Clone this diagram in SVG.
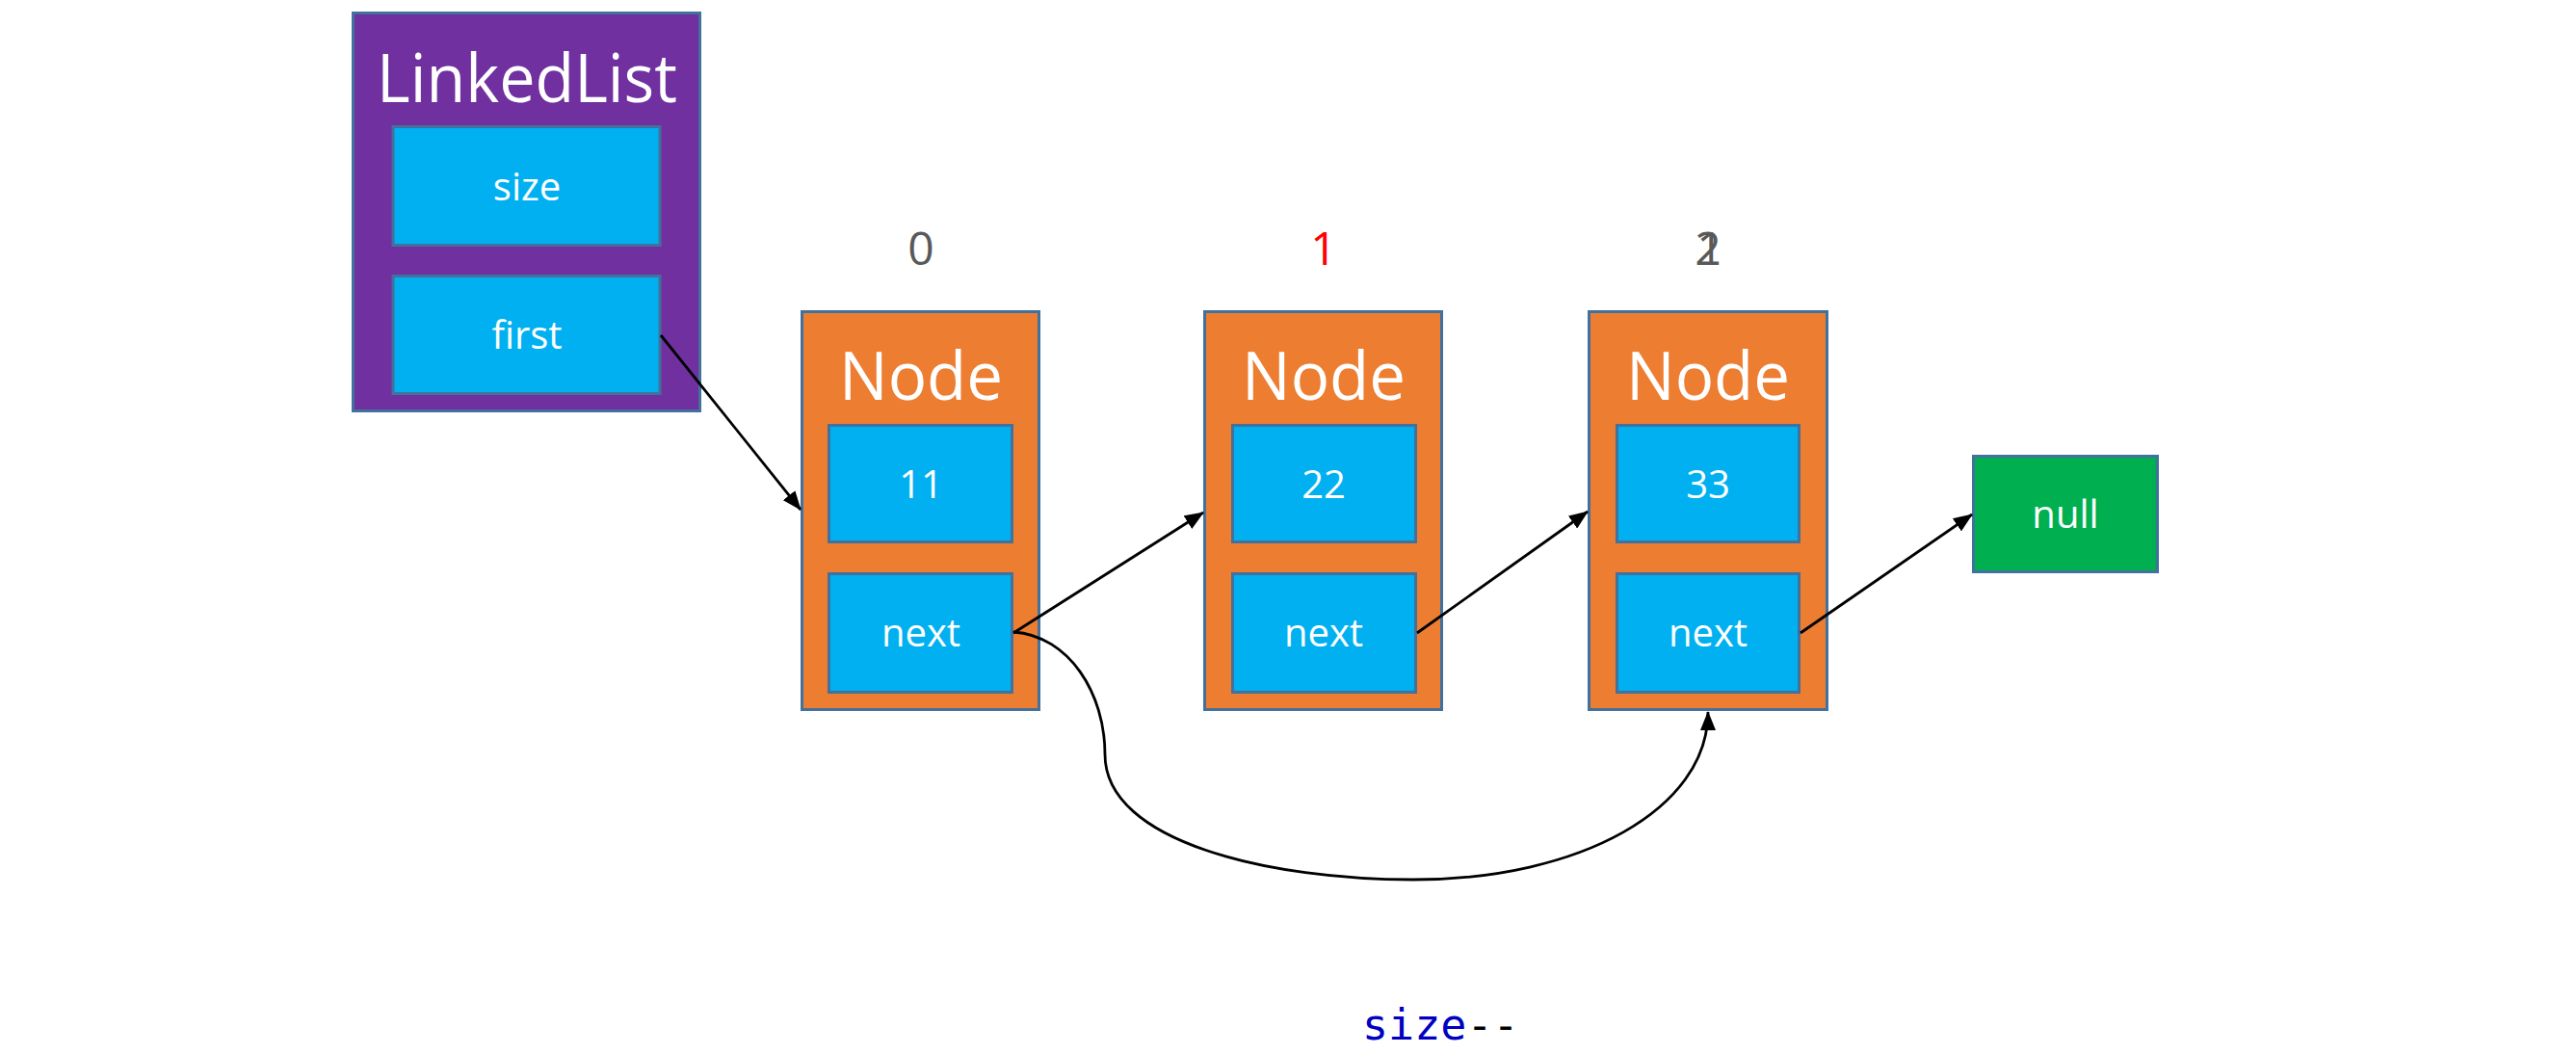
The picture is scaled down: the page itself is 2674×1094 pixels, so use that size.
<svg xmlns="http://www.w3.org/2000/svg" width="2674" height="1094" viewBox="0 0 2674 1094">
  <style>
    .bg { fill: #ffffff; }
    .box { stroke: #41719C; stroke-width: 3; }
    .list { fill: #7030A0; }
    .node { fill: #ED7D31; }
    .field { fill: #00B0F0; }
    .nul { fill: #00B050; }
    .title { font-family: "Open Sans", "Noto Sans", sans-serif; font-size: 70px; fill: #ffffff; text-anchor: middle; }
    .lbl { font-family: "Open Sans", "Noto Sans", sans-serif; font-size: 40px; fill: #ffffff; text-anchor: middle; }
    .idx { font-family: "Open Sans", "Noto Sans", sans-serif; font-size: 48px; fill: #595959; text-anchor: middle; }
    .code { font-family: "DejaVu Sans Mono", "Liberation Mono", monospace; font-size: 45px; }
    .conn { fill: none; stroke: #000000; stroke-width: 2.8; }
  </style>
  <defs>
    <marker id="arrow" markerUnits="userSpaceOnUse" markerWidth="20" markerHeight="16" refX="19" refY="8" orient="auto">
      <path d="M0,0 L20,8 L0,16 z" fill="#000000"/>
    </marker>
  </defs>
  <rect class="bg" x="0" y="0" width="2674" height="1094"/>

  <g id="linkedlist">
    <rect class="box list" x="366.5" y="13.5" width="360" height="413"/>
    <text class="title" x="547" y="106" textLength="312" lengthAdjust="spacingAndGlyphs">LinkedList</text>
    <rect class="box field" x="408" y="131.5" width="277" height="123"/>
    <text class="lbl" x="547" y="208">size</text>
    <rect class="box field" x="408" y="286.5" width="277" height="122"/>
    <text class="lbl" x="547" y="362">first</text>
  </g>

  <g id="node0">
    <text class="idx" x="956" y="275">0</text>
    <rect class="box node" x="832.5" y="323.5" width="246" height="413"/>
    <text class="title" x="956" y="415" textLength="170" lengthAdjust="spacingAndGlyphs">Node</text>
    <rect class="box field" x="860.5" y="441.5" width="190" height="121"/>
    <text class="lbl" x="956" y="517">11</text>
    <rect class="box field" x="860.5" y="595.5" width="190" height="123"/>
    <text class="lbl" x="956" y="671">next</text>
  </g>

  <g id="node1">
    <text class="idx" x="1374" y="275" style="fill:#FF0000">1</text>
    <rect class="box node" x="1250.5" y="323.5" width="246" height="413"/>
    <text class="title" x="1374" y="415" textLength="170" lengthAdjust="spacingAndGlyphs">Node</text>
    <rect class="box field" x="1279.5" y="441.5" width="190" height="121"/>
    <text class="lbl" x="1374" y="517">22</text>
    <rect class="box field" x="1279.5" y="595.5" width="190" height="123"/>
    <text class="lbl" x="1374" y="671">next</text>
  </g>

  <g id="node2">
    <text class="idx" x="1773" y="275">2</text>
    <text class="idx" x="1775" y="275">1</text>
    <rect class="box node" x="1649.5" y="323.5" width="247" height="413"/>
    <text class="title" x="1773" y="415" textLength="170" lengthAdjust="spacingAndGlyphs">Node</text>
    <rect class="box field" x="1678.5" y="441.5" width="189" height="121"/>
    <text class="lbl" x="1773" y="517">33</text>
    <rect class="box field" x="1678.5" y="595.5" width="189" height="123"/>
    <text class="lbl" x="1773" y="671">next</text>
  </g>

  <g id="null">
    <rect class="box nul" x="2048.5" y="473.5" width="191" height="120"/>
    <text class="lbl" x="2144" y="548">null</text>
  </g>

  <g id="connectors">
    <path class="conn" d="M686,348 L831,529" marker-end="url(#arrow)"/>
    <path class="conn" d="M1052,657 L1249,532" marker-end="url(#arrow)"/>
    <path class="conn" d="M1471,657 L1648,531" marker-end="url(#arrow)"/>
    <path class="conn" d="M1869,657 L2047,534" marker-end="url(#arrow)"/>
    <path class="conn" d="M1052,656 C1110,660 1147,720 1147,783 C1147,875 1320,913 1467,913 C1640,913 1773,840 1773,739" marker-end="url(#arrow)"/>
  </g>

  <g id="caption">
    <text class="code" x="1414" y="1079"><tspan fill="#0000C0">size</tspan><tspan fill="#000000">--</tspan></text>
  </g>
</svg>
